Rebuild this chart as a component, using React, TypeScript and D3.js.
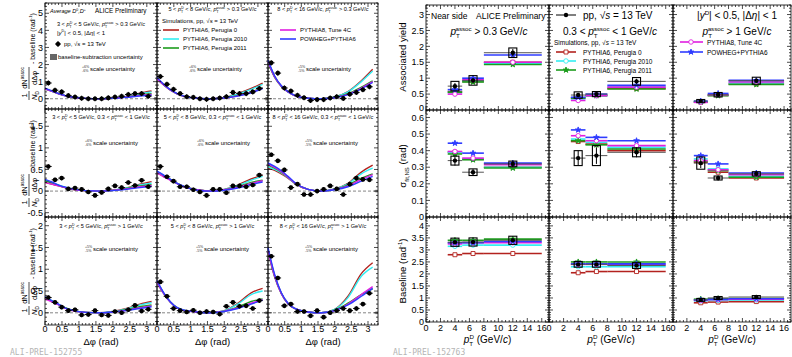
import React from "react";
import * as d3 from "d3";

const FONT = "'Liberation Sans', Arial, Helvetica, sans-serif";

// ---------- models ----------
const modelNames = ["PYTHIA6, Perugia 0", "PYTHIA6, Perugia 2010", "PYTHIA6, Perugia 2011", "PYTHIA8, Tune 4C", "POWHEG+PYTHIA6"];
const modelColors = ["#b3221e", "#33eef2", "#1c9c1c", "#e01ee0", "#2f3cff"];
const modelSymbols = [d3.symbolSquare, d3.symbolCircle, d3.symbolStar, d3.symbolCircle, d3.symbolStar];
const modelSymSize = [16, 16, 10, 16, 10];
const modelFilled = [false, false, true, false, true];

// ---------- left figure: azimuthal correlations ----------
const dphiCenters = [0.098, 0.295, 0.491, 0.687, 0.884, 1.08, 1.276, 1.473, 1.669, 1.865, 2.062, 2.258, 2.454, 2.651, 2.847, 3.043];
const dphiHalfBin = 0.098;
const modelDphi = [0, 0.2, 0.4, 0.6, 0.8, 1.2, 1.6, 2.0, 2.4, 2.8, 3.14];

const ptDRanges = [["3", "5"], ["5", "8"], ["8", "16"]];
const scaleUnc = [["6", "6", "5"], ["6", "6", "5"], ["5", "5", "5"]];

// pT assoc > 0.3 GeV/c, one array per D-meson pT bin
const corrAssoc03 = [
  [0.92, 0.5, 0.4, 0.18, 0.1, 0.03, 0.0, 0.0, 0.0, 0.05, 0.1, 0.15, 0.25, 0.3, 0.3, 0.15],
  [1.3, 0.85, 0.55, 0.3, 0.12, 0.08, 0.0, -0.03, 0.0, 0.04, 0.12, 0.37, 0.3, 0.3, 0.4, 0.6],
  [2.1, 1.5, 0.63, 0.45, 0.2, 0.06, -0.1, -0.05, -0.05, 0.04, 0.12, 0.02, 0.27, 0.37, 0.53, 0.7],
];
// 0.3 < pT assoc < 1 GeV/c
const corrAssoc03to1 = [
  [0.57, 0.26, 0.3, 0.05, 0.07, 0.04, -0.02, -0.1, -0.03, 0.05, 0.12, 0.08, 0.2, 0.13, 0.25, 0.1],
  [0.57, 0.33, 0.23, 0.1, 0.1, 0.03, -0.02, -0.1, 0.04, 0.04, -0.04, 0.12, 0.12, 0.1, 0.14, 0.37],
  [0.84, 0.7, 0.49, 0.08, 0.16, -0.08, -0.08, 0.0, 0.04, 0.12, 0.05, -0.08, 0.16, 0.3, 0.27, 0.26],
];
// pT assoc > 1 GeV/c
const corrAssoc1 = [
  [0.35, 0.24, 0.13, 0.05, 0.07, -0.05, -0.04, 0.05, -0.05, -0.06, 0.03, 0.0, 0.07, 0.17, 0.04, 0.08],
  [0.71, 0.38, 0.1, 0.05, 0.02, 0.06, 0.0, 0.03, 0.02, -0.03, 0.15, 0.24, 0.15, 0.16, 0.1, 0.28],
  [1.3, 0.8, 0.16, 0.2, 0.03, 0.03, -0.07, 0.05, -0.1, 0.0, 0.05, 0.1, 0.05, 0.1, 0.2, 0.45],
];
const corrStat = [0.15, 0.05, 0.05];
const baselineSubUnc = [0.1, 0.03, 0.03];

// model curves [P0, P2010, P2011, P8, POWHEG] per D pT bin
const modelAssoc03 = [
  [
    [0.6, 0.45, 0.3, 0.18, 0.1, 0.02, 0.0, 0.04, 0.14, 0.33, 0.45],
    [0.6, 0.45, 0.3, 0.18, 0.1, 0.02, 0.0, 0.04, 0.13, 0.3, 0.4],
    [0.57, 0.43, 0.29, 0.17, 0.09, 0.02, 0.0, 0.03, 0.11, 0.24, 0.3],
    [0.57, 0.43, 0.29, 0.17, 0.09, 0.02, 0.0, 0.03, 0.1, 0.2, 0.25],
    [0.62, 0.46, 0.3, 0.18, 0.1, 0.02, 0.0, 0.02, 0.08, 0.16, 0.2],
  ],
  [
    [1.2, 0.82, 0.52, 0.3, 0.15, 0.03, 0.0, 0.06, 0.3, 0.6, 0.92],
    [1.2, 0.82, 0.52, 0.3, 0.15, 0.03, 0.0, 0.06, 0.28, 0.55, 0.84],
    [1.15, 0.8, 0.5, 0.29, 0.14, 0.03, 0.0, 0.05, 0.2, 0.4, 0.65],
    [1.15, 0.8, 0.5, 0.29, 0.14, 0.03, 0.0, 0.04, 0.17, 0.37, 0.62],
    [1.25, 0.85, 0.53, 0.3, 0.15, 0.03, 0.0, 0.04, 0.15, 0.35, 0.6],
  ],
  [
    [2.2, 1.3, 0.75, 0.42, 0.2, 0.03, 0.0, 0.1, 0.42, 1.05, 1.72],
    [2.2, 1.3, 0.75, 0.42, 0.2, 0.03, 0.0, 0.1, 0.4, 1.0, 1.62],
    [2.1, 1.25, 0.72, 0.4, 0.19, 0.03, 0.0, 0.08, 0.3, 0.68, 1.05],
    [2.15, 1.27, 0.73, 0.4, 0.19, 0.03, 0.0, 0.07, 0.26, 0.62, 1.0],
    [2.25, 1.33, 0.76, 0.42, 0.2, 0.03, 0.0, 0.06, 0.24, 0.58, 0.95],
  ],
];
const modelAssoc03to1 = [
  [
    [0.2, 0.16, 0.12, 0.08, 0.04, 0.01, 0.0, 0.02, 0.07, 0.16, 0.22],
    [0.26, 0.2, 0.14, 0.09, 0.05, 0.01, 0.0, 0.02, 0.07, 0.14, 0.18],
    [0.24, 0.19, 0.13, 0.08, 0.04, 0.01, 0.0, 0.02, 0.06, 0.12, 0.15],
    [0.2, 0.16, 0.12, 0.08, 0.04, 0.01, 0.0, 0.02, 0.05, 0.1, 0.13],
    [0.27, 0.21, 0.14, 0.09, 0.05, 0.01, 0.0, 0.01, 0.04, 0.08, 0.11],
  ],
  [
    [0.45, 0.36, 0.27, 0.18, 0.11, 0.03, 0.0, 0.04, 0.14, 0.28, 0.37],
    [0.45, 0.36, 0.27, 0.18, 0.11, 0.03, 0.0, 0.04, 0.13, 0.25, 0.34],
    [0.43, 0.34, 0.26, 0.17, 0.1, 0.03, 0.0, 0.03, 0.1, 0.2, 0.25],
    [0.42, 0.33, 0.25, 0.17, 0.1, 0.03, 0.0, 0.03, 0.09, 0.18, 0.24],
    [0.46, 0.37, 0.27, 0.18, 0.11, 0.02, 0.0, 0.02, 0.07, 0.15, 0.21],
  ],
  [
    [0.53, 0.48, 0.4, 0.3, 0.18, 0.04, 0.0, 0.05, 0.18, 0.44, 0.6],
    [0.56, 0.5, 0.42, 0.31, 0.18, 0.04, 0.0, 0.05, 0.17, 0.4, 0.53],
    [0.6, 0.53, 0.44, 0.32, 0.19, 0.04, 0.0, 0.04, 0.14, 0.3, 0.4],
    [0.62, 0.55, 0.45, 0.32, 0.19, 0.04, 0.0, 0.04, 0.12, 0.27, 0.38],
    [0.65, 0.57, 0.47, 0.34, 0.2, 0.04, 0.0, 0.03, 0.1, 0.23, 0.34],
  ],
];
const modelAssoc1 = [
  [
    [0.35, 0.27, 0.19, 0.11, 0.06, 0.01, 0.0, 0.03, 0.1, 0.2, 0.26],
    [0.36, 0.28, 0.19, 0.11, 0.06, 0.01, 0.0, 0.03, 0.09, 0.18, 0.23],
    [0.34, 0.27, 0.19, 0.11, 0.06, 0.01, 0.0, 0.02, 0.07, 0.14, 0.18],
    [0.32, 0.25, 0.18, 0.1, 0.05, 0.01, 0.0, 0.02, 0.06, 0.12, 0.16],
    [0.37, 0.28, 0.2, 0.11, 0.06, 0.01, 0.0, 0.02, 0.05, 0.1, 0.14],
  ],
  [
    [0.72, 0.45, 0.25, 0.12, 0.06, 0.02, 0.0, 0.05, 0.22, 0.46, 0.56],
    [0.72, 0.45, 0.25, 0.12, 0.06, 0.02, 0.0, 0.05, 0.2, 0.42, 0.5],
    [0.7, 0.44, 0.24, 0.11, 0.05, 0.02, 0.0, 0.04, 0.13, 0.26, 0.32],
    [0.7, 0.44, 0.24, 0.11, 0.05, 0.02, 0.0, 0.04, 0.11, 0.22, 0.3],
    [0.74, 0.46, 0.25, 0.12, 0.06, 0.02, 0.0, 0.03, 0.1, 0.2, 0.29],
  ],
  [
    [1.45, 0.85, 0.45, 0.22, 0.1, 0.02, 0.0, 0.08, 0.38, 0.9, 1.15],
    [1.45, 0.85, 0.45, 0.22, 0.1, 0.02, 0.0, 0.08, 0.35, 0.84, 1.05],
    [1.4, 0.82, 0.44, 0.21, 0.1, 0.02, 0.0, 0.06, 0.22, 0.42, 0.55],
    [1.42, 0.83, 0.44, 0.21, 0.1, 0.02, 0.0, 0.05, 0.2, 0.42, 0.6],
    [1.5, 0.88, 0.46, 0.22, 0.1, 0.02, 0.0, 0.05, 0.18, 0.38, 0.56],
  ],
];

// ---------- right figure: fit parameters vs D pT ----------
const ptBins = [[3, 5], [5, 8], [8, 16]];
const ptCenters = [4, 6.5, 12];

const yieldData = [[0.75, 0.93, 1.8], [0.47, 0.5, 0.9], [0.28, 0.48, 0.92]];
const yieldSys = [[0.15, 0.15, 0.15], [0.1, 0.08, 0.12], [0.05, 0.07, 0.11]];
const yieldStat = [[0.1, 0.08, 0.12], [0.05, 0.05, 0.08], [0.03, 0.04, 0.07]];
const yieldModels = [
  [[0.58, 0.9, 1.5], [0.55, 0.92, 1.47], [0.56, 0.88, 1.43], [0.5, 0.95, 1.5], [0.64, 1.0, 1.73]],
  [[0.38, 0.47, 0.68], [0.35, 0.45, 0.74], [0.37, 0.45, 0.66], [0.3, 0.45, 0.72], [0.4, 0.5, 0.78]],
  [[0.25, 0.46, 0.82], [0.26, 0.47, 0.85], [0.25, 0.45, 0.8], [0.24, 0.48, 0.88], [0.28, 0.52, 0.93]],
];

const sigmaData = [[0.34, 0.27, 0.32], [0.355, 0.37, 0.39], [0.325, 0.235, 0.26]];
const sigmaSys = [[0.027, 0.02, 0.017], [0.045, 0.06, 0.027], [0.037, 0.012, 0.013]];
const sigmaStat = [[0.03, 0.02, 0.02], [0.045, 0.05, 0.03], [0.03, 0.015, 0.015]];
const sigmaModels = [
  [[0.39, 0.35, 0.3], [0.39, 0.35, 0.3], [0.38, 0.345, 0.295], [0.395, 0.355, 0.315], [0.445, 0.385, 0.325]],
  [[0.455, 0.44, 0.4], [0.47, 0.45, 0.42], [0.46, 0.435, 0.41], [0.49, 0.46, 0.43], [0.525, 0.48, 0.46]],
  [[0.33, 0.27, 0.235], [0.35, 0.29, 0.245], [0.335, 0.28, 0.24], [0.34, 0.285, 0.255], [0.37, 0.32, 0.265]],
];

const baselineData = [[3.32, 3.33, 3.4], [2.4, 2.4, 2.35], [0.92, 1.0, 1.04]];
const baselineSys = [[0.17, 0.17, 0.17], [0.12, 0.12, 0.12], [0.06, 0.06, 0.06]];
const baselineStat = [[0.05, 0.05, 0.05], [0.04, 0.04, 0.04], [0.03, 0.03, 0.03]];
const baselineModels = [
  [[2.8, 2.85, 2.85], [3.15, 3.2, 3.2], [3.4, 3.4, 3.45], [3.25, 3.3, 3.3], [3.3, 3.3, 3.35]],
  [[2.05, 2.1, 2.1], [2.3, 2.3, 2.3], [2.5, 2.5, 2.5], [2.4, 2.4, 2.4], [2.42, 2.42, 2.42]],
  [[0.8, 0.83, 0.85], [0.88, 0.9, 0.92], [0.95, 0.97, 0.98], [0.9, 0.93, 0.95], [0.92, 0.95, 0.97]],
];

// ---------- layout ----------
const W = 792, H = 357;
const colsL = [[45, 157], [157, 268], [268, 378]];
const rowsL = [[3, 109], [109, 217], [217, 325]];
const yDomL = [[-0.6, 5.6], [-0.6, 1.9], [-0.28, 2.2]];
const yStepL = [[1, 0.2], [0.5, 0.1], [0.5, 0.1]];
const colsR = [[426, 549], [549, 673], [673, 791]];
const rowsR = [[5, 110], [110, 217], [217, 322]];
const yDomR = [[0, 3.3], [0, 0.645], [0, 4.37]];
const yStepR = [[0.5, 0.1], [0.1, 0.02], [0.5, 0.1]];

const steps = (dom: number[], step: number) => {
  const lo = Math.ceil(dom[0] / step - 1e-6), hi = Math.floor(dom[1] / step + 1e-6);
  return d3.range(lo, hi + 1).map((i) => +(i * step).toFixed(4));
};
const fmt = (v: number) => String(+v.toFixed(3));

// ---------- rich text (sub/superscripts) ----------
type Part = string | { t: string; it?: boolean } | { sup?: string; sub?: string };
function Rich({ x, y, fs, parts, anchor = "start", fill = "#000" }: any) {
  let cur = 0;
  const out: any[] = [];
  const s = fs * 0.62, subY = fs * 0.3, supY = -fs * 0.42;
  (parts as Part[]).forEach((p, i) => {
    if (typeof p === "string" || "t" in p) {
      const t = typeof p === "string" ? p : p.t;
      const it = typeof p !== "string" && p.it;
      out.push(<tspan key={i} dy={-cur} fontSize={fs} fontStyle={it ? "italic" : undefined}>{t}</tspan>);
      cur = 0;
    } else if (p.sub && p.sup) {
      out.push(<tspan key={i + "a"} dy={subY - cur} fontSize={s}>{p.sub}</tspan>);
      out.push(<tspan key={i + "b"} dx={-p.sub.length * s * 0.58} dy={supY - subY} fontSize={s}>{p.sup}</tspan>);
      cur = supY;
    } else if (p.sup) {
      out.push(<tspan key={i} dy={supY - cur} fontSize={s}>{p.sup}</tspan>);
      cur = supY;
    } else if (p.sub) {
      out.push(<tspan key={i} dy={subY - cur} fontSize={s}>{p.sub}</tspan>);
      cur = subY;
    }
  });
  return <text x={x} y={y} textAnchor={anchor} fill={fill} fontFamily={FONT} style={{ whiteSpace: "pre" }}>{out}</text>;
}
const pTD: Part[] = [{ t: "p", it: true }, { sub: "T", sup: "D" }];
const pTA: Part[] = [{ t: "p", it: true }, { sub: "T", sup: "assoc" }];
const gevc: Part[] = [" GeV/", { t: "c", it: true }];

// ---------- frame with ROOT-like ticks ----------
function Frame({ xs, ys, xMaj, xMin, yMaj, yMin, xLab, yLab, fs = 9, xLabY, liftZero = false }: any) {
  const [x0, x1] = xs.range();
  const [y1, y0] = ys.range();
  const els: any[] = [];
  const st = { stroke: "#000", strokeWidth: 0.7 };
  yMin.forEach((v: number, i: number) => {
    const len = yMaj.some((m: number) => Math.abs(m - v) < 1e-6) ? 4 : 2;
    const y = ys(v);
    els.push(<line key={"yl" + i} x1={x0} x2={x0 + len} y1={y} y2={y} {...st} />);
    els.push(<line key={"yr" + i} x1={x1} x2={x1 - len} y1={y} y2={y} {...st} />);
  });
  xMin.forEach((v: number, i: number) => {
    const len = xMaj.some((m: number) => Math.abs(m - v) < 1e-6) ? 4 : 2;
    const x = xs(v);
    els.push(<line key={"xb" + i} x1={x} x2={x} y1={y1} y2={y1 - len} {...st} />);
    els.push(<line key={"xt" + i} x1={x} x2={x} y1={y0} y2={y0 + len} {...st} />);
  });
  return (
    <g>
      <rect x={x0} y={y0} width={x1 - x0} height={y1 - y0} fill="none" stroke="#000" strokeWidth={0.8} />
      {els}
      {yLab &&
        yMaj.map((v: number, i: number) => (
          <text
            key={"ylab" + i}
            x={x0 - 2}
            y={ys(v) - (liftZero && v === 0 ? 2.5 : 0)}
            dy="0.35em"
            textAnchor="end"
            fontSize={fs}
            fontFamily={FONT}
          >
            {fmt(v)}
          </text>
        ))}
      {xLab &&
        xMaj.map((v: number, i: number) => (
          <text key={"xlab" + i} x={xs(v)} y={xLabY} textAnchor="middle" fontSize={fs} fontFamily={FONT}>
            {fmt(v)}
          </text>
        ))}
    </g>
  );
}

function ScaleUnc({ x, y, pct }: any) {
  return (
    <g fontFamily={FONT}>
      <text x={x} y={y - 1.2} fontSize={3.6} fill="#333">{"+" + pct + "%"}</text>
      <text x={x} y={y + 2.8} fontSize={3.6} fill="#333">{"-" + pct + "%"}</text>
      <text x={x + 8} y={y + 2} fontSize={6}>scale uncertainty</text>
    </g>
  );
}

function LeftPanel({ r, c, data, models }: any) {
  const xs = d3.scaleLinear().domain([0, 3.3]).range(colsL[c]);
  const ys = d3.scaleLinear().domain(yDomL[r]).range([rowsL[r][1], rowsL[r][0]]);
  const line = d3.line<number>().x((_, i) => xs(modelDphi[i])).y((v) => ys(v)).curve(d3.curveMonotoneX);
  const e = corrStat[r];
  return (
    <g>
      <line x1={xs(0)} x2={xs(3.3)} y1={ys(0)} y2={ys(0)} stroke="#666" strokeDasharray="3,2" strokeWidth={0.8} />
      <rect x={xs(3.22)} width={xs(3.3) - xs(3.22)} y={ys(baselineSubUnc[r])} height={ys(-baselineSubUnc[r]) - ys(baselineSubUnc[r])} fill="#777" />
      {models.map((m: number[], k: number) => (
        <path key={k} d={line(m) || ""} fill="none" stroke={modelColors[k]} strokeWidth={1.4} />
      ))}
      {data.map((v: number, i: number) => (
        <g key={i}>
          <line x1={xs(dphiCenters[i] - dphiHalfBin)} x2={xs(dphiCenters[i] + dphiHalfBin)} y1={ys(v)} y2={ys(v)} stroke="#000" strokeWidth={1} />
          <line x1={xs(dphiCenters[i])} x2={xs(dphiCenters[i])} y1={ys(v - e)} y2={ys(v + e)} stroke="#000" strokeWidth={1} />
          <circle cx={xs(dphiCenters[i])} cy={ys(v)} r={2.3} fill="#000" />
        </g>
      ))}
      <Frame
        xs={xs}
        ys={ys}
        xMaj={steps([0, 3.3], 0.5)}
        xMin={steps([0, 3.3], 0.1)}
        yMaj={steps(yDomL[r], yStepL[r][0])}
        yMin={steps(yDomL[r], yStepL[r][1])}
        yLab={c === 0}
        xLab={r === 2}
        xLabY={332}
      />
    </g>
  );
}

function RightPanel({ r, c, data, sys, stat, models }: any) {
  const xs = d3.scaleLinear().domain([0, 17]).range(colsR[c]);
  const ys = d3.scaleLinear().domain(yDomR[r]).range([rowsR[r][1], rowsR[r][0]]);
  return (
    <g>
      {models.map((m: number[], k: number) => (
        <g key={k}>
          {m.map((v, b) => (
            <g key={b}>
              <line x1={xs(ptBins[b][0])} x2={xs(ptBins[b][1])} y1={ys(v)} y2={ys(v)} stroke={modelColors[k]} strokeWidth={1.6} />
              <path
                transform={`translate(${xs(ptCenters[b])},${ys(v)})`}
                d={d3.symbol().type(modelSymbols[k]).size(modelSymSize[k])() || ""}
                fill={modelFilled[k] ? modelColors[k] : "#fff"}
                stroke={modelColors[k]}
                strokeWidth={0.9}
              />
            </g>
          ))}
        </g>
      ))}
      {data.map((v: number, b: number) => (
        <g key={b}>
          <line x1={xs(ptBins[b][0])} x2={xs(ptBins[b][1])} y1={ys(v)} y2={ys(v)} stroke="#555" strokeWidth={1} />
          <line x1={xs(ptCenters[b])} x2={xs(ptCenters[b])} y1={ys(v - stat[b])} y2={ys(v + stat[b])} stroke="#000" strokeWidth={1} />
          <rect x={xs(ptCenters[b]) - 4} width={8} y={ys(v + sys[b])} height={ys(v - sys[b]) - ys(v + sys[b])} fill="none" stroke="#000" strokeWidth={1.1} />
          <circle cx={xs(ptCenters[b])} cy={ys(v)} r={2.2} fill="#000" />
        </g>
      ))}
      <Frame
        xs={xs}
        ys={ys}
        xMaj={steps([0, 17], 2)}
        xMin={steps([0, 17], 0.5)}
        yMaj={steps(yDomR[r], yStepR[r][0])}
        yMin={steps(yDomR[r], yStepR[r][1])}
        yLab={c === 0}
        xLab={r === 2}
        xLabY={331}
        liftZero={r === 0}
      />
    </g>
  );
}

// rotated "1/N_D dN^assoc/dΔφ - baseline (rad^-1)"
function LeftYTitle({ cy }: any) {
  return (
    <g transform={`translate(37,${cy}) rotate(-90)`} fontFamily={FONT}>
      <text x={-39.5} y={-10} textAnchor="middle" fontSize={7.5}>1</text>
      <line x1={-44} x2={-35} y1={-8} y2={-8} stroke="#000" strokeWidth={0.7} />
      <Rich x={-39.5} y={0} anchor="middle" fs={7.5} parts={[{ t: "N", it: true }, { sub: "D" }]} />
      <Rich x={-22} y={-10} anchor="middle" fs={7.5} parts={["dN", { sup: "assoc" }]} />
      <line x1={-33} x2={-11} y1={-8} y2={-8} stroke="#000" strokeWidth={0.7} />
      <text x={-22} y={0} textAnchor="middle" fontSize={7.5}>dΔφ</text>
      <Rich x={-10} y={-2} fs={7} parts={[" - baseline (rad", { sup: "-1" }, ")"]} />
    </g>
  );
}

function Legend({ x, y, k, len, fs }: any) {
  return (
    <g>
      <line x1={x} x2={x + len} y1={y} y2={y} stroke={modelColors[k]} strokeWidth={1.6} />
      <Rich x={x + len + 4} y={y + fs * 0.35} fs={fs} parts={[modelNames[k]]} />
    </g>
  );
}

export default function App() {
  const corrRows = [corrAssoc03, corrAssoc03to1, corrAssoc1];
  const modelRows = [modelAssoc03, modelAssoc03to1, modelAssoc1];
  const rightRows = [
    { data: yieldData, sys: yieldSys, stat: yieldStat, models: yieldModels },
    { data: sigmaData, sys: sigmaSys, stat: sigmaStat, models: sigmaModels },
    { data: baselineData, sys: baselineSys, stat: baselineStat, models: baselineModels },
  ];
  const assocHeads: Part[][] = [
    [", ", ...pTA, " > 0.3", ...gevc],
    [", 0.3 < ", ...pTA, " < 1", ...gevc],
    [", ", ...pTA, " > 1", ...gevc],
  ];
  const headY = [[26, 11, 11], [119, 119, 119], [228, 228, 228]];
  const scaleX = [[82, 189, 298], [85, 197, 305], [85, 196, 305]];
  const scaleY = [69, 143, 249];
  const sym = (k: number) => d3.symbol().type(modelSymbols[k]).size(modelSymSize[k])() || "";

  return (
    <svg width={W} height={H} style={{ position: "absolute", left: 0, top: 0, background: "#fff" }} fontFamily={FONT}>
      <rect width={W} height={H} fill="#fff" />

      {/* ----- left figure ----- */}
      {[0, 1, 2].map((r) =>
        [0, 1, 2].map((c) => <LeftPanel key={r + "-" + c} r={r} c={c} data={corrRows[r][c]} models={modelRows[r][c]} />)
      )}
      {[0, 1, 2].map((r) =>
        [0, 1, 2].map((c) => (
          <g key={"h" + r + c}>
            <Rich
              x={(colsL[c][0] + colsL[c][1]) / 2}
              y={headY[r][c]}
              anchor="middle"
              fs={5.6}
              parts={[ptDRanges[c][0] + " < ", ...pTD, " < " + ptDRanges[c][1], ...gevc, ...assocHeads[r]]}
            />
            <ScaleUnc x={scaleX[r][c]} y={scaleY[r]} pct={scaleUnc[r][c]} />
          </g>
        ))
      )}
      {[0, 1, 2].map((r) => (
        <LeftYTitle key={"yt" + r} cy={(rowsL[r][0] + rowsL[r][1]) / 2} />
      ))}
      {[0, 1, 2].map((c) => (
        <text key={"xt" + c} x={(colsL[c][0] + colsL[c][1]) / 2} y={345} textAnchor="middle" fontSize={9.5}>
          Δφ (rad)
        </text>
      ))}
      {/* left legends */}
      <Rich x={50} y={13} fs={5.6} parts={[{ t: "Average D", it: true }, { sup: "0" }, { t: ",D", it: true }, { sup: "+" }]} />
      <text x={95} y={13} fontSize={6.3}>ALICE Preliminary</text>
      <Rich x={57} y={35} fs={6} parts={["|", { t: "y", it: true }, { sup: "D" }, "| < 0.5, |Δ", { t: "η", it: true }, "| < 1"]} />
      <line x1={55} x2={61} y1={44} y2={44} stroke="#000" />
      <line x1={58} x2={58} y1={41} y2={47} stroke="#000" />
      <circle cx={58} cy={44} r={2.2} fill="#000" />
      <Rich x={64} y={46} fs={6} parts={["pp, √", { t: "s", it: true }, " = 13 TeV"]} />
      <rect x={50} y={54} width={7} height={6} fill="#666" />
      <text x={58} y={59} fontSize={6}>baseline-subtraction uncertainty</text>
      <Rich x={162} y={23} fs={6} parts={["Simulations, pp, √", { t: "s", it: true }, " = 13 TeV"]} />
      <Legend x={163} y={30} k={0} len={16} fs={6} />
      <Legend x={163} y={39} k={1} len={16} fs={6} />
      <Legend x={163} y={48} k={2} len={16} fs={6} />
      <Legend x={280} y={30} k={3} len={16} fs={6} />
      <Legend x={280} y={39} k={4} len={16} fs={6} />
      <text x={10} y={355} fontSize={8} fontFamily="'DejaVu Sans Mono', monospace" fill="#b4b4b4">ALI-PREL-152755</text>

      {/* ----- right figure ----- */}
      {[0, 1, 2].map((r) =>
        [0, 1, 2].map((c) => (
          <RightPanel
            key={"R" + r + c}
            r={r}
            c={c}
            data={rightRows[r].data[c]}
            sys={rightRows[r].sys[c]}
            stat={rightRows[r].stat[c]}
            models={rightRows[r].models[c]}
          />
        ))
      )}
      <g transform="translate(406,57) rotate(-90)">
        <text textAnchor="middle" fontSize={9.6}>Associated yield</text>
      </g>
      <g transform="translate(406,166) rotate(-90)">
        <Rich x={0} y={0} anchor="middle" fs={9.6} parts={["σ", { sub: "fit,NS" }, " (rad)"]} />
      </g>
      <g transform="translate(406,271) rotate(-90)">
        <Rich x={0} y={0} anchor="middle" fs={9.6} parts={["Baseline (rad", { sup: "-1" }, ")"]} />
      </g>
      {[0, 1, 2].map((c) => (
        <Rich key={"rx" + c} x={(colsR[c][0] + colsR[c][1]) / 2} y={343} anchor="middle" fs={10} parts={[...pTD, " (GeV/", { t: "c", it: true }, ")"]} />
      ))}
      <text x={431} y={19} fontSize={8.5}>Near side</text>
      <text x={476} y={19} fontSize={8.5}>ALICE Preliminary</text>
      <Rich x={489} y={35} anchor="middle" fs={10} parts={[...pTA, " > 0.3", ...gevc]} />
      <line x1={556} x2={576} y1={15} y2={15} stroke="#000" />
      <circle cx={566} cy={15} r={2.2} fill="#000" />
      <Rich x={583} y={19} fs={10} parts={["pp, √", { t: "s", it: true }, " = 13 TeV"]} />
      <Rich x={610} y={35} anchor="middle" fs={10} parts={["0.3 < ", ...pTA, " < 1", ...gevc]} />
      <Rich x={554} y={45} fs={6.5} parts={["Simulations, pp, √", { t: "s", it: true }, " = 13 TeV"]} />
      {[0, 1, 2].map((k) => (
        <g key={"lg" + k}>
          <line x1={556} x2={576} y1={52 + 9 * k} y2={52 + 9 * k} stroke={modelColors[k]} strokeWidth={1.6} />
          <path transform={`translate(566,${52 + 9 * k})`} d={sym(k)} fill={modelFilled[k] ? modelColors[k] : "#fff"} stroke={modelColors[k]} strokeWidth={0.9} />
          <text x={583} y={54.5 + 9 * k} fontSize={6.5}>{modelNames[k]}</text>
        </g>
      ))}
      <Rich x={737} y={19} anchor="middle" fs={10} parts={["|", { t: "y", it: true }, { sup: "D" }, "| < 0.5, |Δ", { t: "η", it: true }, "| < 1"]} />
      <Rich x={737} y={35} anchor="middle" fs={10} parts={[...pTA, " > 1", ...gevc]} />
      {[3, 4].map((k, j) => (
        <g key={"lg" + k}>
          <line x1={680} x2={703} y1={42 + 10 * j} y2={42 + 10 * j} stroke={modelColors[k]} strokeWidth={1.6} />
          <path transform={`translate(691,${42 + 10 * j})`} d={sym(k)} fill={modelFilled[k] ? modelColors[k] : "#fff"} stroke={modelColors[k]} strokeWidth={0.9} />
          <text x={707} y={44.5 + 10 * j} fontSize={6.5}>{modelNames[k]}</text>
        </g>
      ))}
      <text x={393} y={355} fontSize={8} fontFamily="'DejaVu Sans Mono', monospace" fill="#b4b4b4">ALI-PREL-152763</text>
    </svg>
  );
}
